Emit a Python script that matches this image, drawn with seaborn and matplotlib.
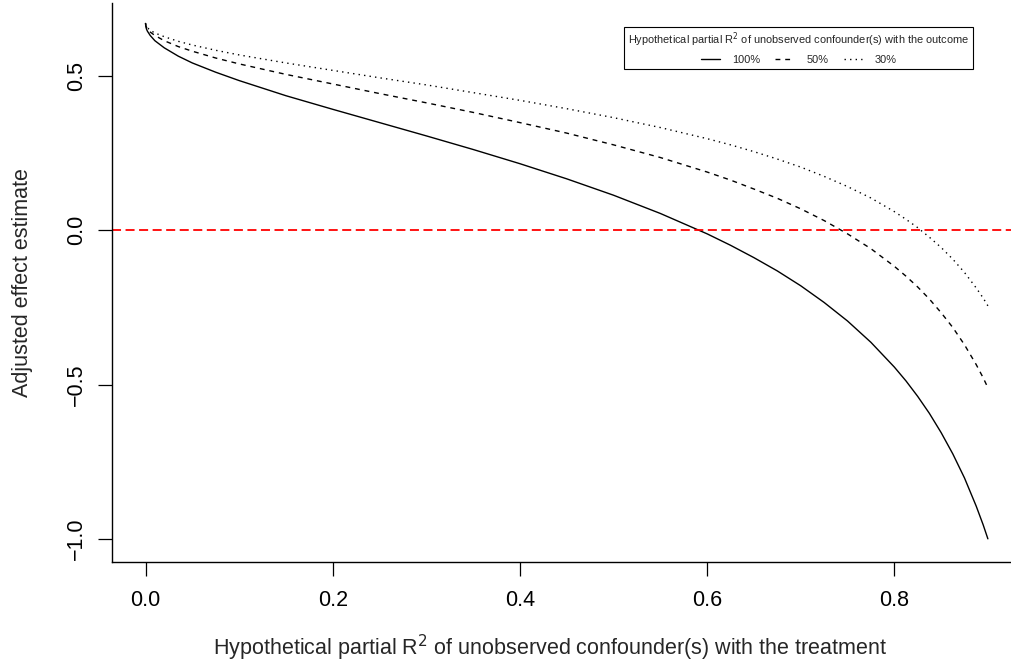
import numpy as np
import pandas as pd
import seaborn as sns
import matplotlib
matplotlib.use("Agg")
import matplotlib.pyplot as plt
from matplotlib.lines import Line2D

# hypothetical partial R2 of confounder with the treatment (x axis)
r2dz = [0.0, 0.0005, 0.001, 0.002, 0.005, 0.01, 0.02, 0.035, 0.05, 0.075, 0.1,
        0.15, 0.2, 0.25, 0.3, 0.35, 0.4, 0.45, 0.5, 0.55, 0.6, 0.625, 0.65,
        0.675, 0.7, 0.725, 0.75, 0.775, 0.8, 0.8125, 0.825, 0.8375, 0.85,
        0.8625, 0.875, 0.8875, 0.895, 0.9]

# adjusted estimates, one list per outcome R2
est_100 = [0.669, 0.657, 0.651, 0.644, 0.630, 0.613, 0.590, 0.563, 0.541, 0.511,
           0.484, 0.435, 0.391, 0.348, 0.305, 0.261, 0.215, 0.166, 0.113, 0.054,
           -0.012, -0.049, -0.089, -0.132, -0.180, -0.234, -0.294, -0.363,
           -0.443, -0.488, -0.538, -0.593, -0.655, -0.724, -0.802, -0.893,
           -0.954, -0.999]
est_50 = [0.669, 0.660, 0.657, 0.651, 0.641, 0.630, 0.613, 0.594, 0.579, 0.557,
          0.538, 0.504, 0.473, 0.442, 0.412, 0.381, 0.348, 0.314, 0.276, 0.235,
          0.188, 0.162, 0.133, 0.103, 0.069, 0.031, -0.012, -0.060, -0.117,
          -0.149, -0.184, -0.223, -0.267, -0.315, -0.371, -0.435, -0.478, -0.510]
est_30 = [0.669, 0.662, 0.659, 0.655, 0.647, 0.638, 0.626, 0.611, 0.599, 0.582,
          0.567, 0.541, 0.517, 0.493, 0.470, 0.445, 0.420, 0.393, 0.364, 0.332,
          0.296, 0.276, 0.254, 0.230, 0.204, 0.174, 0.141, 0.104, 0.060, 0.035,
          0.008, -0.023, -0.056, -0.094, -0.137, -0.187, -0.220, -0.245]

series_labels = ["100%", "50%", "30%"]
x_ticks = [0.0, 0.2, 0.4, 0.6, 0.8]
y_ticks = [-1.0, -0.5, 0.0, 0.5]

df = pd.DataFrame({
    "r2dz": r2dz * 3,
    "estimate": est_100 + est_50 + est_30,
    "r2yz": np.repeat(series_labels, len(r2dz)),
})

sns.set_style("white")
plt.rcParams["font.family"] = ["Liberation Sans", "DejaVu Sans"]

dash_map = {"100%": "", "50%": (3.5, 3.5), "30%": (1, 3)}

fig = plt.figure(figsize=(10.11, 6.65), dpi=100)
ax = fig.add_axes([112 / 1011, 1 - 562 / 665, 899 / 1011, 559 / 665])

sns.lineplot(data=df, x="r2dz", y="estimate", style="r2yz", style_order=series_labels,
             dashes=dash_map, color="black", lw=1.0, estimator=None, sort=False,
             legend=False, ax=ax)

ax.axhline(0, color="red", lw=1.3, linestyle=(0, (5, 2.5)))

ax.set_xlim(-0.0358, 0.9247)
ax.set_ylim(-1.074, 0.735)
ax.set_xticks(x_ticks)
ax.set_yticks(y_ticks)
ax.tick_params(axis="both", direction="out", length=10, width=0.9, labelsize=15.5,
               color="black", labelcolor="black", bottom=True, left=True)
ax.tick_params(axis="x", pad=10)
ax.tick_params(axis="y", pad=8)
plt.setp(ax.get_yticklabels(), rotation=90, va="center", ha="right")

for side in ["top", "right"]:
    ax.spines[side].set_visible(False)
for side in ["left", "bottom"]:
    ax.spines[side].set_color("black")
    ax.spines[side].set_linewidth(1.0)

ax.set_xlabel("Hypothetical partial R$^2$ of unobserved confounder(s) with the treatment",
              fontsize=15.5)
ax.set_ylabel("Adjusted effect estimate", fontsize=15.5)
ax.xaxis.set_label_coords(0.487, -0.154)
ax.xaxis.label.set_va("center")
ax.yaxis.set_label_coords(-0.100, 0.5)
ax.yaxis.label.set_va("center")

handles = [Line2D([], [], color="black", lw=1.0, dashes=dash_map[k] if dash_map[k] else (None, None))
           for k in series_labels]
leg = ax.legend(handles, series_labels, ncol=3,
                title="Hypothetical partial R$^2$ of unobserved confounder(s) with the outcome",
                fontsize=7.9, title_fontsize=7.9, loc="upper right",
                bbox_to_anchor=(0.958, 0.957), borderaxespad=0, frameon=True,
                fancybox=False, edgecolor="black", framealpha=1, handlelength=1.7,
                handletextpad=1.1, columnspacing=1.4, borderpad=0.35)
leg.get_frame().set_linewidth(0.8)

fig.savefig("out.png", dpi=100)
